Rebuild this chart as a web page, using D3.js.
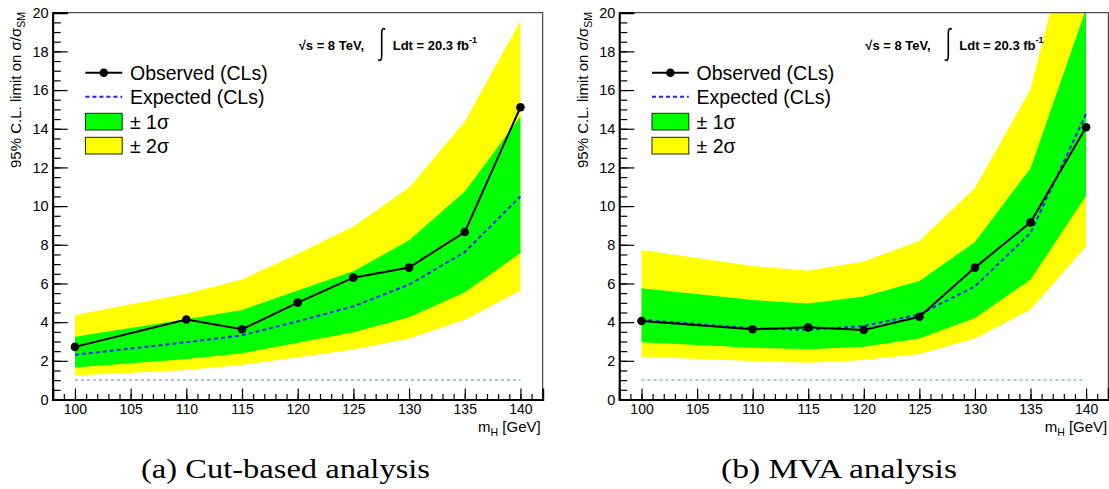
<!DOCTYPE html>
<html><head><meta charset="utf-8">
<script src="https://cdn.jsdelivr.net/npm/d3@7"></script>
<style>body{margin:0;background:#fff}svg{display:block}</style></head>
<body>
<svg id="c" width="1109" height="489"></svg>
<script>
// ---- data ----
const masses = [100, 110, 115, 120, 125, 130, 135, 140];
const xTickLabels = [100, 105, 110, 115, 120, 125, 130, 135, 140];
const yTickLabels = [0, 2, 4, 6, 8, 10, 12, 14, 16, 18, 20];

// (a) Cut-based analysis
const obsA   = [2.72, 4.14, 3.63, 5.01, 6.30, 6.82, 8.66, 15.11];
const expA   = [2.31, 2.96, 3.32, 4.04, 4.82, 5.94, 7.62, 10.50];
const plus1A = [3.25, 4.15, 4.63, 5.63, 6.63, 8.23, 10.76, 14.63];
const minus1A= [1.66, 2.10, 2.39, 2.93, 3.48, 4.25, 5.54, 7.57];
const plus2A = [4.37, 5.47, 6.21, 7.54, 8.95, 10.96, 14.37, 19.57];
const minus2A= [1.24, 1.53, 1.78, 2.19, 2.58, 3.15, 4.13, 5.63];

// (b) MVA analysis
const obsB   = [4.06, 3.63, 3.73, 3.59, 4.28, 6.82, 9.16, 14.08];
const expB   = [4.12, 3.68, 3.60, 3.80, 4.40, 5.85, 8.61, 14.77];
const plus1B = [5.75, 5.14, 4.97, 5.32, 6.13, 8.14, 11.96, 20.2];
const minus1B= [2.96, 2.68, 2.60, 2.73, 3.16, 4.22, 6.20, 10.53];
const plus2B = [7.73, 6.90, 6.66, 7.13, 8.21, 10.93, 16.04, 27.3];
const minus2B= [2.21, 1.99, 1.90, 2.04, 2.35, 3.15, 4.65, 7.92];

const smLine = 1;
const captions = ["(a) Cut-based analysis", "(b) MVA analysis"];

// ---- drawing ----
const svg = d3.select('#c');
const SANS = "'Liberation Sans', Arial, Helvetica, sans-serif";

function panel(idx, fl, W, obs, exp, p1, m1, p2, m2, capX0, capX1) {
  const x = d3.scaleLinear().domain([98, 142]).range([fl, fl + W]);
  const y = d3.scaleLinear().domain([0, 20]).range([399.5, 12.7]);
  const g = svg.append('g');
  const cid = 'clip' + idx;
  g.append('clipPath').attr('id', cid).append('rect')
    .attr('x', fl).attr('y', y(20)).attr('width', W).attr('height', y(0) - y(20));
  const plot = g.append('g').attr('clip-path', `url(#${cid})`);

  const pts = masses.map((m, i) => ({m, obs: obs[i], exp: exp[i], p1: p1[i], m1: m1[i], p2: p2[i], m2: m2[i]}));
  const band = (lo, hi) => d3.area().x(d => x(d.m)).y0(d => y(d[lo])).y1(d => y(d[hi]));
  plot.append('path').attr('d', band('m2', 'p2')(pts)).attr('fill', '#ffff00');
  plot.append('path').attr('d', band('m1', 'p1')(pts)).attr('fill', '#00ff00');

  plot.append('line').attr('x1', x(100)).attr('x2', x(140)).attr('y1', y(smLine)).attr('y2', y(smLine))
    .attr('stroke', '#a9bccb').attr('stroke-width', 1.6).attr('stroke-dasharray', '3,3');

  plot.append('path').attr('d', d3.line().x(d => x(d.m)).y(d => y(d.exp))(pts))
    .attr('fill', 'none').attr('stroke', '#2222ff').attr('stroke-width', 2).attr('stroke-dasharray', '4,3');
  plot.append('path').attr('d', d3.line().x(d => x(d.m)).y(d => y(d.obs))(pts))
    .attr('fill', 'none').attr('stroke', '#000').attr('stroke-width', 2);
  plot.selectAll('circle.o').data(pts).join('circle').attr('class', 'o')
    .attr('cx', d => x(d.m)).attr('cy', d => y(d.obs)).attr('r', 4.3).attr('fill', '#000');

  // frame
  g.append('rect').attr('x', fl).attr('y', y(20)).attr('width', W).attr('height', y(0) - y(20))
    .attr('fill', 'none').attr('stroke', '#222').attr('stroke-width', 1);

  // axes
  const yAx = g.append('g').attr('transform', `translate(${fl},0)`)
    .call(d3.axisLeft(y).tickValues(yTickLabels).tickSize(-15).tickPadding(4).tickFormat(d3.format('d')));
  const yMin = g.append('g').attr('transform', `translate(${fl},0)`)
    .call(d3.axisLeft(y).tickValues(d3.range(0, 20.01, 0.5)).tickSize(-8).tickFormat(''));
  const xAx = g.append('g').attr('transform', `translate(0,${y(0)})`)
    .call(d3.axisBottom(x).tickValues(xTickLabels).tickSize(-11).tickPadding(5).tickFormat(d3.format('d')));
  const xMin = g.append('g').attr('transform', `translate(0,${y(0)})`)
    .call(d3.axisBottom(x).tickValues(d3.range(98, 142.01, 1)).tickSize(-5.5).tickFormat(''));
  [yAx, yMin].forEach(a => a.selectAll('text').attr('font-size', 14.5));
  [xAx, xMin].forEach(a => a.selectAll('text').attr('font-size', 14));
  [yAx, yMin, xAx, xMin].forEach(a => {
    a.selectAll('text').attr('font-family', SANS).attr('fill', '#000');
    a.selectAll('line').attr('stroke', '#000').attr('stroke-width', 1.2);
    a.select('.domain').attr('stroke', '#000').attr('stroke-width', 2);
  });
  yMin.select('.domain').remove(); xMin.select('.domain').remove();

  // y label
  const yl = g.append('text').attr('transform', `translate(${fl - 31.5},12) rotate(-90)`)
    .attr('text-anchor', 'end').attr('font-family', SANS).attr('font-size', 15);
  yl.append('tspan').text('95% C.L. limit on σ/σ');
  yl.append('tspan').attr('font-size', 10.5).attr('dy', 4).text('SM');

  // x label
  const xl = g.append('text').attr('x', fl + 490 - 2).attr('y', 431.5).attr('text-anchor', 'end')
    .attr('font-family', SANS).attr('font-size', 15);
  xl.append('tspan').text('m');
  xl.append('tspan').attr('font-size', 10.5).attr('dy', 4).text('H');
  xl.append('tspan').attr('dy', -4).text(' [GeV]');

  // annotation
  g.append('text').attr('x', fl + 246).attr('y', 50).attr('font-family', SANS).attr('font-weight', 'bold')
    .attr('font-size', 13).text('√s = 8 TeV,');
  const ix = fl + 329;
  g.append('path')
    .attr('d', `M${ix + 3.5},29.5 C${ix + 1.5},27.5 ${ix},29 ${ix},33 L${ix},56 C${ix},60 ${ix - 1.5},61.5 ${ix - 3.5},59.5`)
    .attr('fill', 'none').attr('stroke', '#000').attr('stroke-width', 1.6);
  const lt = g.append('text').attr('x', fl + 340).attr('y', 50).attr('font-family', SANS).attr('font-weight', 'bold')
    .attr('font-size', 13);
  lt.append('tspan').text('Ldt = 20.3 fb');
  lt.append('tspan').attr('font-size', 9).attr('dy', -7).text('-1');

  // legend
  const lx = fl + 32.7, lw = 36.8, tx = fl + 77.3;
  const lg = g.append('g').attr('font-family', SANS).attr('font-size', 19.5);
  lg.append('line').attr('x1', lx).attr('x2', lx + lw).attr('y1', 72.7).attr('y2', 72.7)
    .attr('stroke', '#000').attr('stroke-width', 2);
  lg.append('circle').attr('cx', lx + lw / 2).attr('cy', 72.7).attr('r', 4.3).attr('fill', '#000');
  lg.append('text').attr('x', tx).attr('y', 79.5).text('Observed (CLs)');
  lg.append('line').attr('x1', lx).attr('x2', lx + lw).attr('y1', 96.7).attr('y2', 96.7)
    .attr('stroke', '#2222ff').attr('stroke-width', 2).attr('stroke-dasharray', '4,3');
  lg.append('text').attr('x', tx).attr('y', 103.5).text('Expected (CLs)');
  lg.append('rect').attr('x', lx).attr('y', 113.3).attr('width', lw).attr('height', 16.7)
    .attr('fill', '#00ff00').attr('stroke', '#222').attr('stroke-width', 1);
  lg.append('text').attr('x', tx).attr('y', 128.5).text('± 1σ');
  lg.append('rect').attr('x', lx).attr('y', 137.3).attr('width', lw).attr('height', 16.7)
    .attr('fill', '#ffff00').attr('stroke', '#222').attr('stroke-width', 1);
  lg.append('text').attr('x', tx).attr('y', 152.5).text('± 2σ');

  // caption
  svg.append('text').attr('x', (capX0 + capX1) / 2).attr('y', 478).attr('text-anchor', 'middle')
    .attr('font-family', "'Liberation Serif', 'DejaVu Serif', serif").attr('font-size', 28)
    .attr('textLength', capX1 - capX0).attr('lengthAdjust', 'spacingAndGlyphs')
    .text(captions[idx]);
}

panel(0, 52.7, 490, obsA, expA, plus1A, minus1A, plus2A, minus2A, 141, 430);
panel(1, 619.3, 489, obsB, expB, plus1B, minus1B, plus2B, minus2B, 721, 957);
</script>
</body></html>
